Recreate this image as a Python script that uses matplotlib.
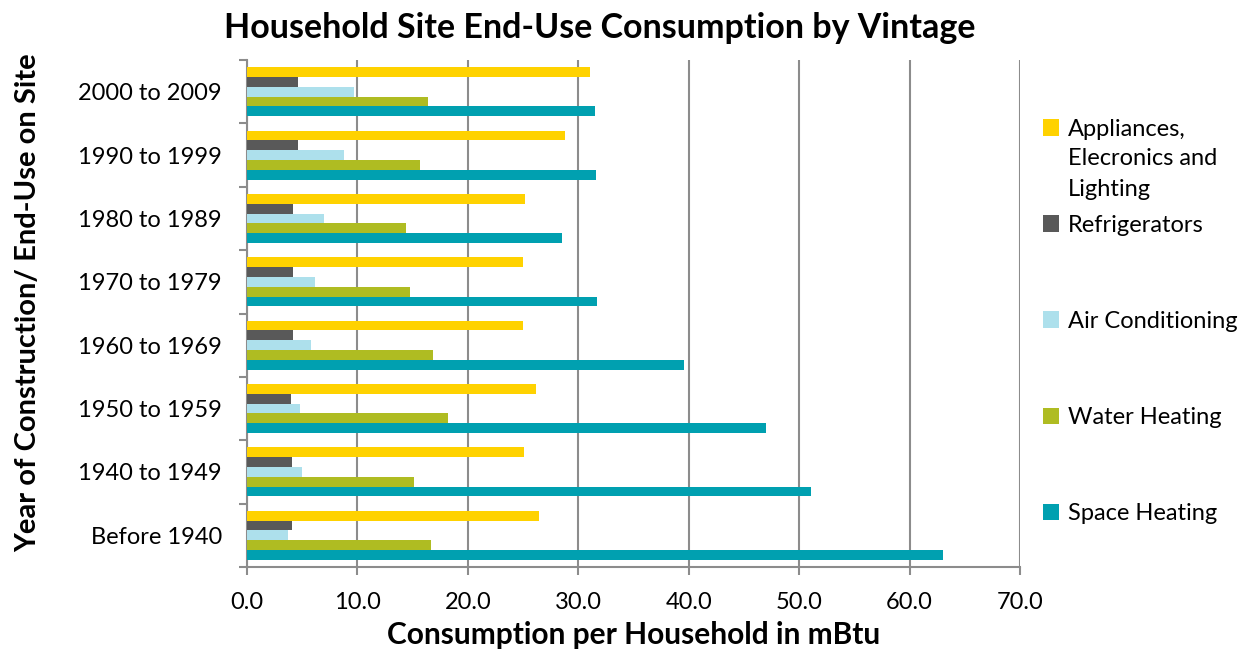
import numpy as np
import matplotlib.pyplot as plt

plt.rcParams['font.family'] = ['Lato', 'DejaVu Sans']

# data, top category first
vintages = ["2000 to 2009", "1990 to 1999", "1980 to 1989", "1970 to 1979",
            "1960 to 1969", "1950 to 1959", "1940 to 1949", "Before 1940"]
appliances = [31.1, 28.8, 25.2, 25.0, 25.0, 26.2, 25.1, 26.4]
refrigerators = [4.6, 4.6, 4.2, 4.2, 4.2, 4.0, 4.1, 4.1]
air_conditioning = [9.7, 8.8, 7.0, 6.2, 5.8, 4.8, 5.0, 3.7]
water_heating = [16.4, 15.7, 14.4, 14.8, 16.8, 18.2, 15.1, 16.7]
space_heating = [31.5, 31.6, 28.5, 31.7, 39.6, 47.0, 51.1, 63.0]

series = [
    ("Appliances,", appliances, "#FFD200"),
    ("Refrigerators", refrigerators, "#595959"),
    ("Air Conditioning", air_conditioning, "#ADE0EC"),
    ("Water Heating", water_heating, "#AFBC22"),
    ("Space Heating", space_heating, "#00A0B0"),
]
x_ticks = [0, 10, 20, 30, 40, 50, 60, 70]

fig = plt.figure(figsize=(12.46, 6.5), dpi=100)
ax = fig.add_axes([247 / 1246, 83 / 650, 773 / 1246, 507 / 650])

y = np.arange(len(vintages))
h = 0.155
handles = []
for i, (name, vals, color) in enumerate(series):
    b = ax.barh(y + (i - 2) * h, vals, height=h, color=color, label=name,
                zorder=3)
    handles.append(b)

ax.set_ylim(len(vintages) - 0.5, -0.5)
ax.set_xlim(0, 70)

grid_c = "#8C8C8C"
ax.set_xticks(x_ticks)
ax.set_xticklabels([f"{v:.1f}" for v in x_ticks])
ax.xaxis.grid(True, color=grid_c, linewidth=1.5, zorder=0)
ax.tick_params(axis="x", direction="out", length=6, width=1.5, color=grid_c,
               labelsize=17, pad=12)

ax.set_yticks(y)
ax.set_yticklabels(vintages)
ax.set_yticks(np.arange(len(vintages) + 1) - 0.5, minor=True)
ax.tick_params(axis="y", which="major", length=0, labelsize=17, pad=18)
ax.tick_params(axis="y", which="minor", direction="out", length=6, width=1.5,
               color=grid_c)

for s in ["top", "right"]:
    ax.spines[s].set_visible(False)
for s in ["left", "bottom"]:
    ax.spines[s].set_color(grid_c)
    ax.spines[s].set_linewidth(1.5)

fig.text(600 / 1246, 1 - 28 / 650, "Household Site End-Use Consumption by Vintage",
         ha="center", va="center", fontsize=24.5, fontweight="bold")
fig.text(634 / 1246, 1 - 635 / 650, "Consumption per Household in mBtu",
         ha="center", va="center", fontsize=21.5, fontweight="bold")
fig.text(28 / 1246, 1 - 303 / 650, "Year of Construction/ End-Use on Site",
         ha="center", va="center", fontsize=21, fontweight="bold", rotation=90)

leg = fig.legend(handles=handles, loc="upper left",
                 bbox_to_anchor=(1031 / 1246, 1 - 107 / 650), frameon=False,
                 fontsize=17, labelspacing=3.18, handlelength=0.7,
                 handleheight=0.7, handletextpad=0.35, borderpad=0)

fig.canvas.draw()
bb = leg.get_texts()[0].get_window_extent()
fig.text(bb.x0 / 1246, bb.y0 / 650 - 0.012, "Elecronics and\nLighting",
         ha="left", va="top", fontsize=17, linespacing=1.6)

fig.savefig("out.png", dpi=100)
